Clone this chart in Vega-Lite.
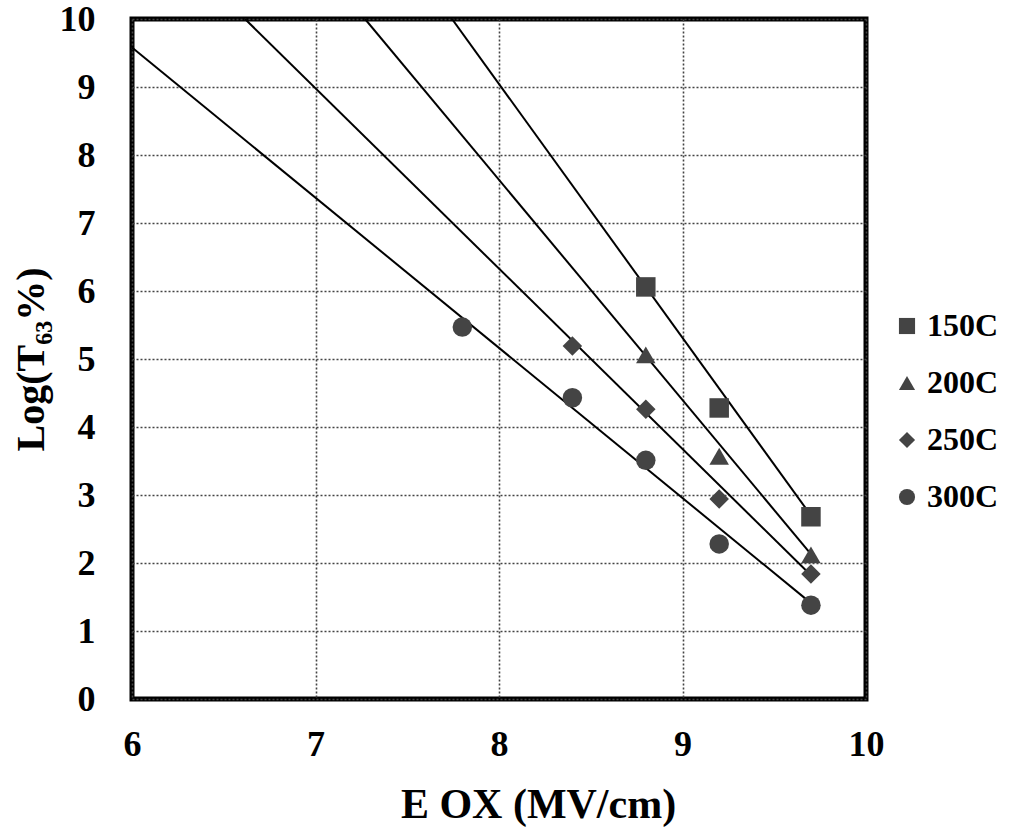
{
  "$schema": "https://vega.github.io/schema/vega-lite/v6.json",
  "autosize": "none",
  "width": 734,
  "height": 680,
  "padding": {"left": 132, "top": 19, "right": 152, "bottom": 130},
  "background": "white",
  "config": {
    "font": "Liberation Serif",
    "view": {"stroke": "black", "strokeWidth": 5},
    "axis": {
      "labelFont": "Liberation Serif",
      "labelFontWeight": "bold",
      "labelFontSize": 36,
      "labelColor": "black",
      "labelFlush": false,
      "titleFont": "Liberation Serif",
      "titleFontWeight": "bold",
      "titleColor": "black",
      "domain": false,
      "ticks": false,
      "grid": true,
      "gridColor": "#444",
      "gridDash": [2, 2],
      "gridWidth": 1.6,
      "gridOpacity": 1
    },
    "legend": {
      "labelFont": "Liberation Serif",
      "labelFontWeight": "bold",
      "labelFontSize": 32,
      "labelColor": "black"
    }
  },
  "datasets": {
    "points": [
      {"series": "150C", "E": 8.8, "logT": 6.06},
      {"series": "150C", "E": 9.2, "logT": 4.28},
      {"series": "150C", "E": 9.7, "logT": 2.68},
      {"series": "200C", "E": 8.8, "logT": 5.06},
      {"series": "200C", "E": 9.2, "logT": 3.57},
      {"series": "200C", "E": 9.7, "logT": 2.12},
      {"series": "250C", "E": 8.4, "logT": 5.19},
      {"series": "250C", "E": 8.8, "logT": 4.26},
      {"series": "250C", "E": 9.2, "logT": 2.94},
      {"series": "250C", "E": 9.7, "logT": 1.84},
      {"series": "300C", "E": 7.8, "logT": 5.47},
      {"series": "300C", "E": 8.4, "logT": 4.43},
      {"series": "300C", "E": 8.8, "logT": 3.51},
      {"series": "300C", "E": 9.2, "logT": 2.28},
      {"series": "300C", "E": 9.7, "logT": 1.38}
    ],
    "fits": [
      {"series": "150C", "E": 7.744, "logT": 10},
      {"series": "150C", "E": 9.7, "logT": 2.70},
      {"series": "200C", "E": 7.27, "logT": 10},
      {"series": "200C", "E": 9.7, "logT": 2.13},
      {"series": "250C", "E": 6.616, "logT": 10},
      {"series": "250C", "E": 9.7, "logT": 1.82},
      {"series": "300C", "E": 6.0, "logT": 9.58},
      {"series": "300C", "E": 9.7, "logT": 1.41}
    ]
  },
  "layer": [
    {
      "data": {"name": "fits"},
      "mark": {"type": "line", "color": "black", "strokeWidth": 2, "clip": true},
      "encoding": {
        "x": {"field": "E", "type": "quantitative", "scale": {"domain": [6, 10]},
              "axis": {"values": [6, 7, 8, 9, 10], "format": "d", "labelPadding": 28, "title": "E OX (MV/cm)", "titleFontSize": 42, "titlePadding": 22, "titleX": 406}},
        "y": {"field": "logT", "type": "quantitative", "scale": {"domain": [0, 10]},
              "axis": {"values": [0, 1, 2, 3, 4, 5, 6, 7, 8, 9, 10], "format": "d", "labelPadding": 37, "title": "Log(T₆₃%)", "titleFontSize": 40, "titlePadding": 8}},
        "detail": {"field": "series"}
      }
    },
    {
      "data": {"name": "points"},
      "mark": {"type": "point", "filled": true, "color": "#444", "opacity": 1, "size": 380},
      "encoding": {
        "x": {"field": "E", "type": "quantitative"},
        "y": {"field": "logT", "type": "quantitative"},
        "shape": {
          "field": "series", "type": "nominal",
          "scale": {"domain": ["150C", "200C", "250C", "300C"], "range": ["square", "triangle-up", "diamond", "circle"]},
          "legend": {"title": null, "orient": "none", "legendX": 759, "legendY": 291, "symbolSize": 260, "symbolFillColor": "#444", "symbolStrokeColor": "#444", "labelOffset": 4, "rowPadding": 25, "padding": 0}
        }
      }
    }
  ]
}
